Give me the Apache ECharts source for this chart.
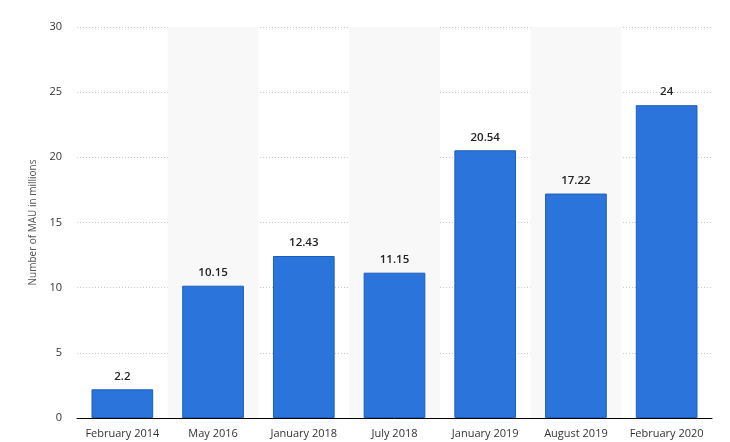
<!DOCTYPE html>
<html><head><meta charset="utf-8">
<script src="https://cdn.jsdelivr.net/npm/echarts@6/dist/echarts.min.js"></script>
<style>html,body{margin:0;padding:0;background:#fff}#c{width:730px;height:442px}</style>
</head><body><div id="c"></div>
<script>
const categories = ['February 2014','May 2016','January 2018','July 2018','January 2019','August 2019','February 2020'];
const mau = [2.2, 10.15, 12.43, 11.15, 20.54, 17.22, 24];
const yTicks = {min: 0, max: 30, interval: 5};
const chart = echarts.init(document.getElementById('c'));
chart.setOption({
  animation: false,
  textStyle: {fontFamily: 'Open Sans'},
  grid: {left: 77, right: 18, top: 27, bottom: 24},
  xAxis: {
    type: 'category', data: categories,
    axisLine: {lineStyle: {color: '#000', width: 1}},
    axisTick: {show: false},
    axisLabel: {color: '#333', fontSize: 11, margin: 10, interval: 0},
    splitArea: {show: true, interval: 0, areaStyle: {color: ['rgba(255,255,255,0)', '#f8f8f8']}}
  },
  yAxis: {
    type: 'value', min: yTicks.min, max: yTicks.max, interval: yTicks.interval,
    name: 'Number of MAU in millions', nameLocation: 'middle', nameGap: 38,
    nameTextStyle: {color: '#555', fontSize: 10},
    axisLine: {show: false}, axisTick: {show: false},
    axisLabel: {color: '#333', fontSize: 11, margin: 15},
    splitLine: {lineStyle: {color: '#c8c8c8', type: [1, 2], width: 1}}
  },
  series: [{
    type: 'bar', data: mau, barWidth: '68%',
    itemStyle: {color: '#2a74db', borderColor: '#1b5fb8', borderWidth: 1},
    label: {show: true, position: 'top', distance: 7, color: '#222', fontSize: 11.5, fontWeight: 600}
  }]
});
</script></body></html>
